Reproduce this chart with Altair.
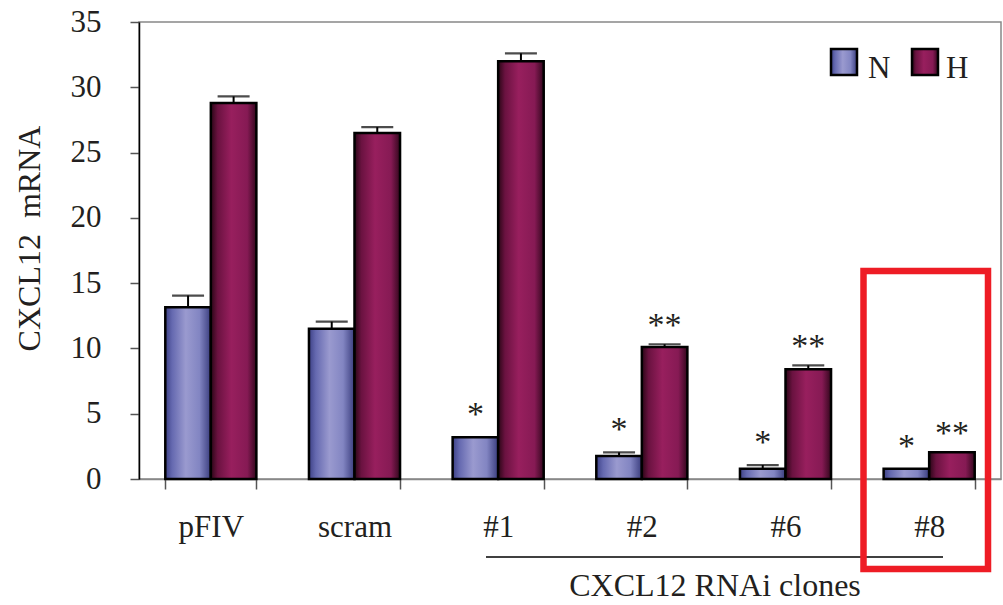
import altair as alt
import pandas as pd

categories = ["pFIV", "scram", "#1", "#2", "#6", "#8"]
n_values = [13.15, 11.5, 3.2, 1.76, 0.79, 0.79]
n_errors = [0.9, 0.55, 0.0, 0.28, 0.28, 0.0]
h_values = [28.8, 26.5, 32.0, 10.1, 8.4, 2.04]
h_errors = [0.5, 0.45, 0.6, 0.22, 0.3, 0.0]
n_stars = ["", "", "*", "*", "*", "*"]
h_stars = ["", "", "", "**", "**", "**"]
series = ["N", "H"]
y_ticks = [0, 5, 10, 15, 20, 25, 30, 35]

FONT = "Liberation Serif"

rows = []
for i, c in enumerate(categories):
    rows.append({"cat": c, "s": "N", "v": n_values[i], "e": n_errors[i],
                 "top": n_values[i] + n_errors[i], "star": n_stars[i]})
    rows.append({"cat": c, "s": "H", "v": h_values[i], "e": h_errors[i],
                 "top": h_values[i] + h_errors[i], "star": h_stars[i]})
df = pd.DataFrame(rows)

n_grad = alt.LinearGradient(
    gradient="linear", x1=0, x2=1, y1=0, y2=0,
    stops=[alt.GradientStop(offset=0, color="#3d4186"),
           alt.GradientStop(offset=0.15, color="#6569b0"),
           alt.GradientStop(offset=0.45, color="#9a9acf"),
           alt.GradientStop(offset=0.75, color="#8285c2"),
           alt.GradientStop(offset=1, color="#3a3d7e")])
h_grad = alt.LinearGradient(
    gradient="linear", x1=0, x2=1, y1=0, y2=0,
    stops=[alt.GradientStop(offset=0, color="#2a0616"),
           alt.GradientStop(offset=0.15, color="#6a1240"),
           alt.GradientStop(offset=0.45, color="#981f5e"),
           alt.GradientStop(offset=0.8, color="#861a54"),
           alt.GradientStop(offset=1, color="#33071d")])

x_enc = alt.X("cat:N", sort=categories,
              scale=alt.Scale(paddingInner=0.366, paddingOuter=0.183),
              axis=alt.Axis(title=None, labelFont=FONT, labelFontSize=31,
                            labelColor="#231f20", labelPadding=23, labelAngle=0,
                            tickBand="extent", tickSize=10, tickColor="#555",
                            tickWidth=1.5, domainColor="#888", domainWidth=1.5))
xo = alt.XOffset("s:N", sort=series, scale=alt.Scale(domain=series, paddingInner=0, paddingOuter=0))
y_scale = alt.Scale(domain=[0, 35], nice=False)
y_enc = alt.Y("v:Q", scale=y_scale,
              axis=alt.Axis(title="CXCL12\u00a0\u00a0mRNA", values=y_ticks, grid=False,
                            labelFont=FONT, labelFontSize=31, labelColor="#231f20",
                            labelPadding=29, tickSize=9, tickColor="#555", tickWidth=1.5,
                            domainColor="#000", domainWidth=1.5,
                            titleFont=FONT, titleFontSize=32, titleFontWeight="normal",
                            titleColor="#231f20", titleAngle=-90,
                            titleX=-110, titleY=216, titleAlign="center",
                            titleBaseline="middle"))

base = alt.Chart(df)

bars_n = base.transform_filter(alt.datum.s == "N").mark_bar(
    fill=n_grad, stroke="#000", strokeWidth=2.5).encode(x=x_enc, xOffset=xo, y=y_enc)
bars_h = base.transform_filter(alt.datum.s == "H").mark_bar(
    fill=h_grad, stroke="#000", strokeWidth=2.5).encode(x=x_enc, xOffset=xo, y=y_enc)

err = base.transform_filter(alt.datum.e > 0)
err_rule = err.mark_rule(color="#000", strokeWidth=2).encode(
    x=x_enc, xOffset=xo, y="v:Q", y2="top:Q")
err_cap = err.mark_tick(color="#000", thickness=2.2, size=32, orient="horizontal").encode(
    x=x_enc, xOffset=xo, y=alt.Y("top:Q", scale=y_scale))

stars_n = base.transform_filter((alt.datum.s == "N") & (alt.datum.star != "")).mark_text(
    font=FONT, fontSize=34, color="#231f20", baseline="alphabetic", dy=-12).encode(
    x=x_enc, xOffset=xo, y=alt.Y("top:Q", scale=y_scale), text="star:N")
stars_h = base.transform_filter((alt.datum.s == "H") & (alt.datum.star != "")).mark_text(
    font=FONT, fontSize=34, color="#231f20", baseline="alphabetic", dy=-8, dx=0).encode(
    x=x_enc, xOffset=xo, y=alt.Y("top:Q", scale=y_scale), text="star:N")

one = alt.Data(values=[{}])

leg_n = alt.Chart(one).mark_rect(fill=n_grad, stroke="#000", strokeWidth=2.5).encode(
    x=alt.value(692), x2=alt.value(718), y=alt.value(27), y2=alt.value(53))
leg_h = alt.Chart(one).mark_rect(fill=h_grad, stroke="#000", strokeWidth=2.5).encode(
    x=alt.value(773), x2=alt.value(799), y=alt.value(27), y2=alt.value(53))
leg_nt = alt.Chart(one).mark_text(font=FONT, fontSize=31, color="#231f20", align="left",
                                  baseline="alphabetic").encode(
    x=alt.value(729), y=alt.value(56), text=alt.value("N"))
leg_ht = alt.Chart(one).mark_text(font=FONT, fontSize=31, color="#231f20", align="left",
                                  baseline="alphabetic").encode(
    x=alt.value(807), y=alt.value(56), text=alt.value("H"))

underline = alt.Chart(one).mark_rule(color="#000", strokeWidth=1.6).encode(
    x=alt.value(347), x2=alt.value(804), y=alt.value(535))
group_label = alt.Chart(one).mark_text(font=FONT, fontSize=32, color="#231f20",
                                       baseline="middle").encode(
    x=alt.value(576), y=alt.value(564), text=alt.value("CXCL12 RNAi clones"))
red_box = alt.Chart(one).mark_rect(fillOpacity=0, stroke="#ee1c25", strokeWidth=6.5).encode(
    x=alt.value(724.5), x2=alt.value(849), y=alt.value(249), y2=alt.value(547))

chart = alt.layer(
    bars_n, bars_h, err_rule, err_cap, stars_n, stars_h,
    leg_n, leg_h, leg_nt, leg_ht, underline, group_label, red_box
).properties(
    width=862, height=457,
    autosize=alt.AutoSizeParams(type="none"),
    padding={"left": 139, "top": 22, "right": 2, "bottom": 126},
    background="white",
).configure_view(stroke="#888", strokeWidth=1.5)

chart.save("out.html", embed_options={"renderer": "svg", "actions": False})
